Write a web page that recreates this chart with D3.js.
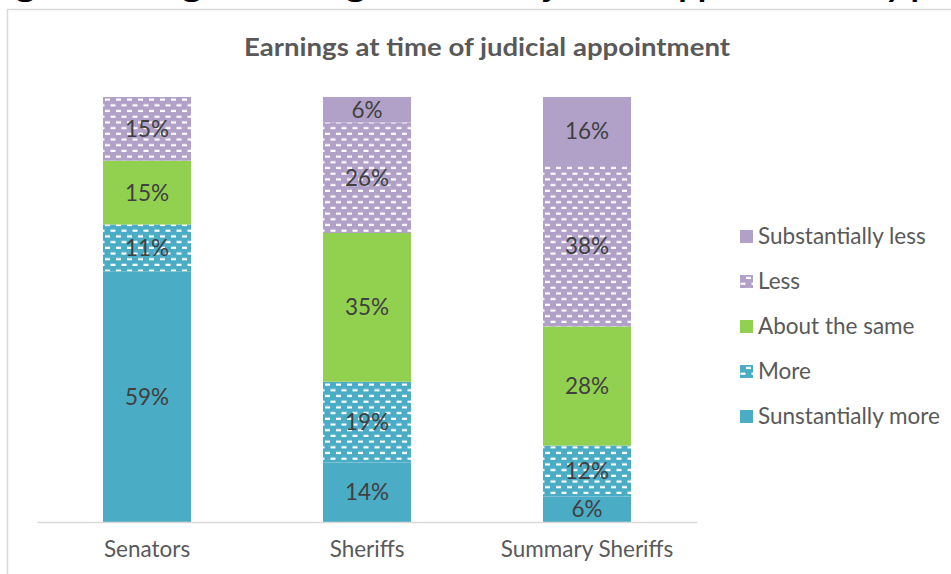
<!DOCTYPE html>
<html>
<head>
<meta charset="utf-8">
<script src="https://cdn.jsdelivr.net/npm/d3@7"></script>
<style>
  body { margin: 0; background: #fff; }
  svg { display: block; font-family: Lato, "Open Sans", sans-serif; }
</style>
</head>
<body>
<svg id="chart" width="951" height="574"></svg>
<script>
// chart data
const categories = ["Senators", "Sheriffs", "Summary Sheriffs"]
const seriesNames = ["Sunstantially more", "More", "About the same", "Less", "Substantially less"]
const substantiallyMore = [59, 14, 6]
const more = [11, 19, 12]
const aboutSame = [15, 35, 28]
const less = [15, 26, 38]
const substantiallyLess = [0, 6, 16]

const seriesValues = [substantiallyMore, more, aboutSame, less, substantiallyLess]
const colors = ["#4BACC6", "#4BACC6", "#92D050", "#B1A0C7", "#B1A0C7"]
const patterned = [false, true, false, true, false]

const params = {
  width: 951,
  height: 574,
  left: 37,
  right: 697,
  top: 97,
  bottom: 522,
  fontSize: 22.5
}

const rows = categories.map((c, i) => {
  const row = { category: c }
  seriesNames.forEach((s, j) => { row[s] = seriesValues[j][i] })
  return row
})

const svg = d3.select("#chart")

// patterns (white dashes on colour)
const defs = svg.append("defs")
const makePattern = (id, color) => {
  const p = defs.append("pattern")
    .attr("id", id)
    .attr("patternUnits", "userSpaceOnUse")
    .attr("width", 11)
    .attr("height", 11.4)
  p.append("rect").attr("width", 11).attr("height", 11.4).attr("fill", color)
  p.append("rect").attr("x", 0.5).attr("y", 1.6).attr("width", 5).attr("height", 2.2).attr("fill", "#fff")
  p.append("rect").attr("x", 6).attr("y", 7.3).attr("width", 5).attr("height", 2.2).attr("fill", "#fff")
}
makePattern("pat-blue", colors[1])
makePattern("pat-purple", colors[3])
const fillFor = i => patterned[i] ? (i === 1 ? "url(#pat-blue)" : "url(#pat-purple)") : colors[i]

// chart frame
svg.append("path")
  .attr("d", "M7.5,574 V9.5 H951")
  .attr("fill", "none")
  .attr("stroke", "#d9d9d9")
  .attr("stroke-width", 1.5)

// figure heading, cut off by the top edge as in the source
svg.append("text")
  .attr("x", -12)
  .attr("y", -2)
  .attr("font-size", 25)
  .attr("font-weight", "bold")
  .attr("fill", "#000")
  .attr("textLength", 990)
  .attr("lengthAdjust", "spacingAndGlyphs")
  .text("Figure 5: Judges' earnings at time of judicial appointment by post")

svg.append("text")
  .attr("x", 487)
  .attr("y", 56)
  .attr("text-anchor", "middle")
  .attr("font-size", 25)
  .attr("font-weight", "bold")
  .attr("fill", "#595959")
  .attr("textLength", 486)
  .attr("lengthAdjust", "spacingAndGlyphs")
  .text("Earnings at time of judicial appointment")

const x = d3.scaleBand()
  .domain(categories)
  .range([params.left, params.right])
  .paddingInner(0.6)
  .paddingOuter(0.3)

const y = d3.scaleLinear()
  .domain([0, 100])
  .range([params.bottom, params.top])

const stack = d3.stack().keys(seriesNames)(rows)

const layers = svg.append("g").selectAll("g")
  .data(stack)
  .join("g")
  .attr("fill", (d, i) => fillFor(i))

layers.selectAll("rect")
  .data(d => d)
  .join("rect")
  .attr("x", d => x(d.data.category))
  .attr("width", x.bandwidth())
  .attr("y", d => y(d[1]))
  .attr("height", d => y(d[0]) - y(d[1]))

// value labels
const labels = svg.append("g")
stack.forEach(layer => {
  layer.forEach(d => {
    if (d[1] - d[0] <= 0) return
    labels.append("text")
      .attr("x", x(d.data.category) + x.bandwidth() / 2)
      .attr("y", (y(d[0]) + y(d[1])) / 2)
      .attr("dy", "0.35em")
      .attr("text-anchor", "middle")
      .attr("font-size", params.fontSize)
      .attr("fill", "#404040")
      .text((d[1] - d[0]) + "%")
  })
})

// category axis
const axis = svg.append("g")
  .attr("transform", `translate(0,${params.bottom})`)
  .call(d3.axisBottom(x).tickSize(0).tickPadding(19))
axis.select(".domain").attr("stroke", "#d9d9d9").attr("stroke-width", 1.5)
axis.selectAll("text")
  .attr("font-size", params.fontSize)
  .attr("font-family", "Lato, 'Open Sans', sans-serif")
  .attr("fill", "#595959")

// legend, top entry first
const legendOrder = [4, 3, 2, 1, 0]
const legend = svg.append("g")
  .selectAll("g")
  .data(legendOrder)
  .join("g")
  .attr("transform", (d, i) => `translate(740,${236 + i * 45})`)

legend.append("rect")
  .attr("x", 0)
  .attr("y", -6)
  .attr("width", 13)
  .attr("height", 13)
  .attr("fill", d => fillFor(d))

legend.append("text")
  .attr("x", 18)
  .attr("y", 0)
  .attr("dy", "0.35em")
  .attr("font-size", params.fontSize)
  .attr("fill", "#595959")
  .text(d => seriesNames[d])
</script>
</body>
</html>
